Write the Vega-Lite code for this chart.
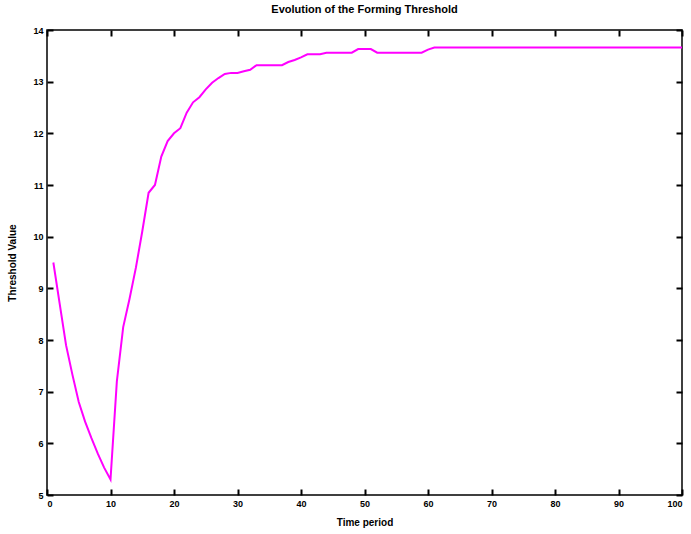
{
  "$schema": "https://vega.github.io/schema/vega-lite/v6.json",
  "width": 635,
  "height": 465,
  "autosize": "none",
  "padding": {"left": 47, "top": 30, "right": 9, "bottom": 39},
  "background": "white",
  "title": {"text": "Evolution of the Forming Threshold", "fontSize": 11, "font": "Liberation Sans", "fontWeight": "bold", "color": "black", "offset": 11, "anchor": "middle"},
  "data": {"values": [
    {"t": 1, "v": 9.5}, {"t": 2, "v": 8.7}, {"t": 3, "v": 7.9}, {"t": 4, "v": 7.33}, {"t": 5, "v": 6.8},
    {"t": 6, "v": 6.42}, {"t": 7, "v": 6.1}, {"t": 8, "v": 5.8}, {"t": 9, "v": 5.53}, {"t": 10, "v": 5.3},
    {"t": 11, "v": 7.2}, {"t": 12, "v": 8.25}, {"t": 13, "v": 8.8}, {"t": 14, "v": 9.4}, {"t": 15, "v": 10.1},
    {"t": 16, "v": 10.85}, {"t": 17, "v": 11.0}, {"t": 18, "v": 11.55}, {"t": 19, "v": 11.85}, {"t": 20, "v": 12.0},
    {"t": 21, "v": 12.1}, {"t": 22, "v": 12.4}, {"t": 23, "v": 12.6}, {"t": 24, "v": 12.7}, {"t": 25, "v": 12.85},
    {"t": 26, "v": 12.98}, {"t": 27, "v": 13.07}, {"t": 28, "v": 13.15}, {"t": 29, "v": 13.17}, {"t": 30, "v": 13.17},
    {"t": 31, "v": 13.2}, {"t": 32, "v": 13.23}, {"t": 33, "v": 13.32}, {"t": 34, "v": 13.32}, {"t": 35, "v": 13.32},
    {"t": 36, "v": 13.32}, {"t": 37, "v": 13.32}, {"t": 38, "v": 13.38}, {"t": 39, "v": 13.42}, {"t": 40, "v": 13.47},
    {"t": 41, "v": 13.53}, {"t": 42, "v": 13.53}, {"t": 43, "v": 13.53}, {"t": 44, "v": 13.56}, {"t": 45, "v": 13.56},
    {"t": 46, "v": 13.56}, {"t": 47, "v": 13.56}, {"t": 48, "v": 13.56}, {"t": 49, "v": 13.63}, {"t": 50, "v": 13.63},
    {"t": 51, "v": 13.63}, {"t": 52, "v": 13.56}, {"t": 53, "v": 13.56}, {"t": 54, "v": 13.56}, {"t": 55, "v": 13.56},
    {"t": 56, "v": 13.56}, {"t": 57, "v": 13.56}, {"t": 58, "v": 13.56}, {"t": 59, "v": 13.56}, {"t": 60, "v": 13.62},
    {"t": 61, "v": 13.66}, {"t": 62, "v": 13.66}, {"t": 63, "v": 13.66}, {"t": 64, "v": 13.66}, {"t": 65, "v": 13.66},
    {"t": 66, "v": 13.66}, {"t": 67, "v": 13.66}, {"t": 68, "v": 13.66}, {"t": 69, "v": 13.66}, {"t": 70, "v": 13.66},
    {"t": 71, "v": 13.66}, {"t": 72, "v": 13.66}, {"t": 73, "v": 13.66}, {"t": 74, "v": 13.66}, {"t": 75, "v": 13.66},
    {"t": 76, "v": 13.66}, {"t": 77, "v": 13.66}, {"t": 78, "v": 13.66}, {"t": 79, "v": 13.66}, {"t": 80, "v": 13.66},
    {"t": 81, "v": 13.66}, {"t": 82, "v": 13.66}, {"t": 83, "v": 13.66}, {"t": 84, "v": 13.66}, {"t": 85, "v": 13.66},
    {"t": 86, "v": 13.66}, {"t": 87, "v": 13.66}, {"t": 88, "v": 13.66}, {"t": 89, "v": 13.66}, {"t": 90, "v": 13.66},
    {"t": 91, "v": 13.66}, {"t": 92, "v": 13.66}, {"t": 93, "v": 13.66}, {"t": 94, "v": 13.66}, {"t": 95, "v": 13.66},
    {"t": 96, "v": 13.66}, {"t": 97, "v": 13.66}, {"t": 98, "v": 13.66}, {"t": 99, "v": 13.66}, {"t": 100, "v": 13.66}
  ]},
  "config": {
    "view": {"stroke": "black", "strokeWidth": 1.5}
  },
  "layer": [
    {
      "mark": {"type": "line", "color": "#ff00ff", "strokeWidth": 2},
      "encoding": {
        "x": {"field": "t", "type": "quantitative", "scale": {"domain": [0, 100], "nice": false},
              "axis": {"orient": "bottom", "title": "Time period", "tickCount": 10,
                       "domain": true, "domainOpacity": 0, "grid": true, "gridOpacity": 0, "ticks": true, "tickColor": "#000000", "tickWidth": 2, "tickSize": 6, "offset": -6,
                       "labelFont": "Liberation Sans", "labelFontWeight": "bold", "labelFontSize": 9, "labelColor": "black", "labelPadding": 4,
                       "titleFont": "Liberation Sans", "titleFontWeight": "bold", "titleFontSize": 10, "titleColor": "black",
                       "titleY": 33, "titleBaseline": "middle"}},
        "y": {"field": "v", "type": "quantitative", "scale": {"domain": [5, 14], "nice": false, "zero": false},
              "axis": {"orient": "left", "title": "Threshold Value", "tickCount": 9,
                       "domain": true, "domainOpacity": 0, "grid": true, "gridOpacity": 0, "ticks": true, "tickColor": "#000000", "tickWidth": 2, "tickSize": 6, "offset": -6,
                       "labelFont": "Liberation Sans", "labelFontWeight": "bold", "labelFontSize": 9, "labelColor": "black", "labelPadding": 4,
                       "titleFont": "Liberation Sans", "titleFontWeight": "bold", "titleFontSize": 10, "titleColor": "black",
                       "titleX": -41, "titleY": 232.5, "titleBaseline": "middle", "titleAngle": -90}}
      }
    },
    {
      "mark": {"type": "line", "opacity": 0},
      "encoding": {
        "x": {"field": "t", "type": "quantitative",
              "axis": {"orient": "top", "title": null, "labels": false, "tickCount": 10,
                       "domain": true, "domainOpacity": 0, "grid": true, "gridOpacity": 0, "ticks": true, "tickColor": "#000000", "tickWidth": 2, "tickSize": 6, "offset": -6}},
        "y": {"field": "v", "type": "quantitative",
              "axis": {"orient": "right", "title": null, "labels": false, "tickCount": 9,
                       "domain": true, "domainOpacity": 0, "grid": true, "gridOpacity": 0, "ticks": true, "tickColor": "#000000", "tickWidth": 2, "tickSize": 6, "offset": -6}}
      }
    }
  ],
  "resolve": {"axis": {"x": "independent", "y": "independent"}}
}
